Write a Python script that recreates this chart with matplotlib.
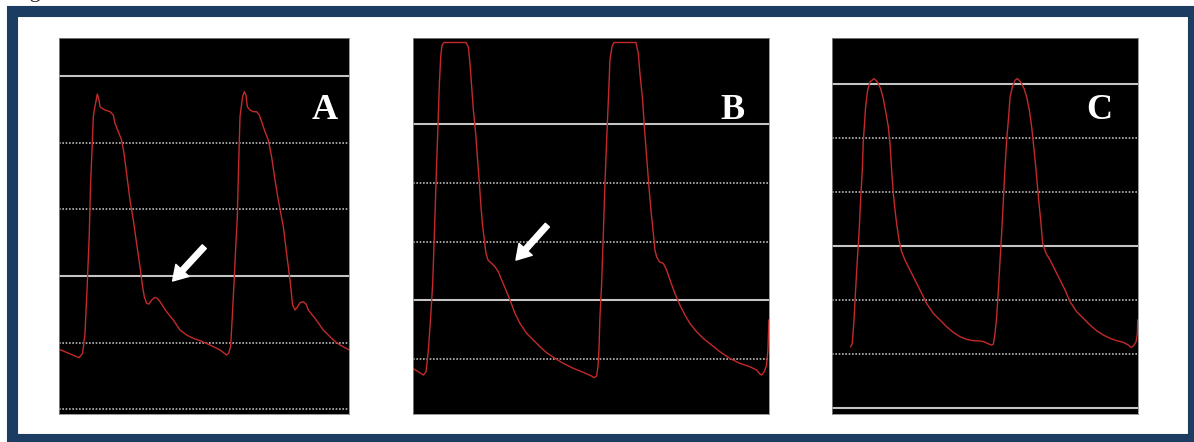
#!/usr/bin/env python3
import matplotlib
matplotlib.use('Agg')
import matplotlib.pyplot as plt
from matplotlib.patches import Rectangle

# Panel A: pressure trace (time in s, pressure in grid units)
a_t = [0.000, 0.197, 0.233, 0.257, 0.280, 0.300, 0.313, 0.327, 0.340, 0.350, 0.363, 0.380,
       0.397, 0.407, 0.427, 0.457, 0.507, 0.540, 0.557, 0.590, 0.623, 0.647, 0.673, 0.707,
       0.740, 0.773, 0.807, 0.833, 0.850, 0.873, 0.897, 0.923, 0.957, 0.980, 1.007, 1.073,
       1.140, 1.207, 1.273, 1.340, 1.407, 1.507, 1.607, 1.673, 1.693, 1.713, 1.730, 1.747,
       1.763, 1.780, 1.793, 1.807, 1.820, 1.833, 1.850, 1.867, 1.880, 1.907, 1.940, 1.973,
       2.000, 2.023, 2.057, 2.090, 2.123, 2.157, 2.190, 2.240, 2.273, 2.307, 2.333, 2.357,
       2.383, 2.407, 2.440, 2.467, 2.490, 2.557, 2.640, 2.740, 2.807, 2.900]
a_p = [9.0, 7.75, 8.4, 11.4, 18.9, 26.4, 33.9, 38.9, 43.9, 44.9, 45.9, 47.3,
       46.4, 45.4, 45.15, 44.9, 44.65, 44.15, 42.9, 41.65, 40.4, 38.4, 35.4, 31.4,
       28.4, 24.9, 21.4, 18.4, 16.9, 15.9, 15.8, 16.4, 16.8, 16.65, 16.15, 14.65,
       13.4, 11.9, 11.15, 10.65, 10.3, 9.65, 8.9, 8.15, 8.4, 9.4, 13.9, 18.9,
       23.9, 28.9, 36.4, 43.9, 45.4, 46.9, 47.65, 47.15, 45.4, 44.9, 44.65, 44.65,
       44.15, 43.15, 41.65, 40.4, 37.9, 34.4, 31.4, 27.4, 23.4, 19.4, 15.65, 14.9,
       15.4, 16.0, 16.15, 15.8, 14.9, 13.65, 11.9, 10.4, 9.65, 8.9]

# Panel B
b_t = [0.000, 0.040, 0.107, 0.133, 0.157, 0.180, 0.200, 0.217, 0.233, 0.250, 0.267, 0.280,
       0.293, 0.313, 0.533, 0.557, 0.573, 0.590, 0.607, 0.630, 0.647, 0.667, 0.683, 0.700,
       0.717, 0.733, 0.753, 0.790, 0.823, 0.857, 0.890, 0.933, 0.980, 1.023, 1.073, 1.140,
       1.207, 1.273, 1.340, 1.423, 1.507, 1.607, 1.707, 1.790, 1.813, 1.840, 1.853, 1.863,
       1.873, 1.890, 1.907, 1.923, 1.940, 1.957, 1.973, 1.993, 2.013, 2.233, 2.257, 2.273,
       2.300, 2.317, 2.340, 2.363, 2.383, 2.407, 2.423, 2.440, 2.467, 2.507, 2.540, 2.580,
       2.623, 2.673, 2.723, 2.773, 2.840, 2.907, 2.990, 3.073, 3.173, 3.273, 3.373, 3.440,
       3.473, 3.490, 3.517, 3.540, 3.553, 3.563]
b_p = [8.41, 8.01, 7.27, 7.84, 11.53, 17.22, 22.90, 31.42, 39.94, 48.47, 56.99, 61.53,
       63.52, 63.98, 63.98, 63.24, 60.40, 56.42, 52.44, 48.47, 44.49, 39.94, 35.97, 32.56,
       30.28, 28.01, 26.88, 26.31, 25.74, 24.89, 23.47, 21.76, 19.77, 17.78, 16.08, 14.38,
       13.24, 12.10, 11.08, 10.11, 9.26, 8.41, 7.73, 7.10, 6.82, 7.10, 8.69, 11.53,
       17.22, 22.90, 31.42, 39.94, 47.33, 54.15, 60.97, 63.24, 63.98, 63.98, 62.10, 58.69,
       54.15, 49.60, 44.49, 39.38, 35.40, 31.42, 28.58, 27.44, 26.59, 26.31, 25.17, 23.18,
       21.19, 19.20, 17.50, 16.08, 14.66, 13.52, 12.39, 11.25, 10.11, 9.26, 8.69, 8.13,
       7.44, 7.27, 7.84, 8.98, 11.53, 16.65]

# Panel C
c_t = [0.183, 0.200, 0.217, 0.233, 0.250, 0.267, 0.283, 0.300, 0.310, 0.320, 0.333, 0.353,
       0.377, 0.417, 0.450, 0.483, 0.510, 0.537, 0.560, 0.577, 0.593, 0.610, 0.627, 0.643,
       0.667, 0.693, 0.727, 0.777, 0.827, 0.877, 0.943, 1.010, 1.077, 1.143, 1.210, 1.277,
       1.343, 1.410, 1.477, 1.517, 1.550, 1.593, 1.610, 1.627, 1.643, 1.660, 1.677, 1.693,
       1.710, 1.727, 1.743, 1.760, 1.777, 1.800, 1.827, 1.850, 1.883, 1.917, 1.943, 1.970,
       1.993, 2.017, 2.043, 2.063, 2.083, 2.103, 2.137, 2.177, 2.227, 2.277, 2.327, 2.377,
       2.443, 2.510, 2.577, 2.643, 2.710, 2.777, 2.843, 2.910, 2.960, 2.987, 3.010, 3.037,
       3.050, 3.053]
c_p = [11.41, 12.02, 16.34, 21.89, 27.44, 32.37, 38.53, 44.08, 49.63, 52.10, 55.80, 58.88,
       60.42, 61.04, 60.42, 59.19, 57.34, 54.56, 52.10, 49.01, 44.08, 39.77, 36.68, 34.22,
       31.13, 28.98, 27.44, 25.59, 23.74, 21.89, 19.42, 17.57, 16.34, 15.10, 14.06, 13.26,
       12.76, 12.52, 12.45, 12.33, 12.02, 11.71, 11.90, 13.87, 16.95, 21.89, 27.44, 32.37,
       38.53, 44.70, 49.63, 53.33, 57.65, 59.49, 60.73, 61.04, 60.42, 59.19, 57.65, 55.18,
       52.10, 47.78, 42.85, 38.53, 34.83, 30.52, 28.67, 27.44, 25.59, 23.74, 21.89, 19.73,
       17.88, 16.65, 15.41, 14.36, 13.56, 12.95, 12.52, 12.21, 11.71, 11.28, 11.53, 12.33,
       13.87, 16.34]

panels = [
    dict(label='A', t=a_t, p=a_p, xlim=(0, 2.9), ylim=(-0.7, 55.75),
         grid=[0, 10, 20, 30, 40, 50], solid=[20, 50],
         arrow=((1.45, 24.4), (1.133, 19.25)), pos=(59.3, 349.3), lx=0.916),
    dict(label='B', t=b_t, p=b_p, xlim=(0, 3.567), ylim=(0.63, 64.8),
         grid=[10, 20, 30, 40, 50], solid=[20, 50],
         arrow=((1.347, 32.84), (1.033, 26.88)), pos=(412.7, 769.3), lx=0.898),
    dict(label='C', t=c_t, p=c_p, xlim=(0, 3.053), ylim=(-1.05, 68.6),
         grid=[0, 10, 20, 30, 40, 50, 60], solid=[0, 30, 60],
         arrow=None, pos=(832.3, 1137.7), lx=0.873),
]

W, H = 1194, 442
fig = plt.figure(figsize=(W / 100, H / 100), dpi=100)
fig.patch.set_facecolor('white')

# caption cut off at the top edge in the source, only the descender shows
fig.text(11 / W, 1 + 3 / H, 'Figure', fontsize=16, family='Liberation Serif',
         color='#222222', va='baseline', ha='left')

# dark blue frame
fig.add_artist(Rectangle((11.5 / W, (H - 438.5) / H), 1181 / W, 428 / H,
                         transform=fig.transFigure, fill=False,
                         edgecolor='#1d3c62', linewidth=8))

top_px, bot_px = 37.7, 414.0
for pn in panels:
    x0, x1 = pn['pos']
    ax = fig.add_axes([x0 / W, (H - bot_px) / H, (x1 - x0) / W, (bot_px - top_px) / H])
    ax.set_facecolor('black')
    for g in pn['grid']:
        if g in pn['solid']:
            ax.axhline(g, color='#c4c4c4', lw=1.5, zorder=1)
        else:
            ax.axhline(g, color='#b8b8b8', lw=1.2, ls=(0, (1, 1)), zorder=1)
    ax.plot(pn['t'], pn['p'], color='#c42a2a', lw=1.0, zorder=2)
    if pn['arrow']:
        tail, head = pn['arrow']
        ax.annotate('', xy=head, xytext=tail,
                    arrowprops=dict(arrowstyle='simple,head_length=0.65,head_width=0.8,tail_width=0.25',
                                    color='white', shrinkA=0, shrinkB=0, mutation_scale=16),
                    zorder=3)
    ax.text(pn['lx'], 0.783, pn['label'], transform=ax.transAxes, color='white',
            fontsize=26, fontweight='bold', family='Liberation Serif',
            ha='center', va='baseline')
    ax.set_xlim(*pn['xlim'])
    ax.set_ylim(*pn['ylim'])
    ax.set_xticks([])
    ax.set_yticks([])
    for s in ax.spines.values():
        s.set_color('#888888')
        s.set_linewidth(0.6)

fig.savefig('out.png', dpi=100, facecolor='white')
